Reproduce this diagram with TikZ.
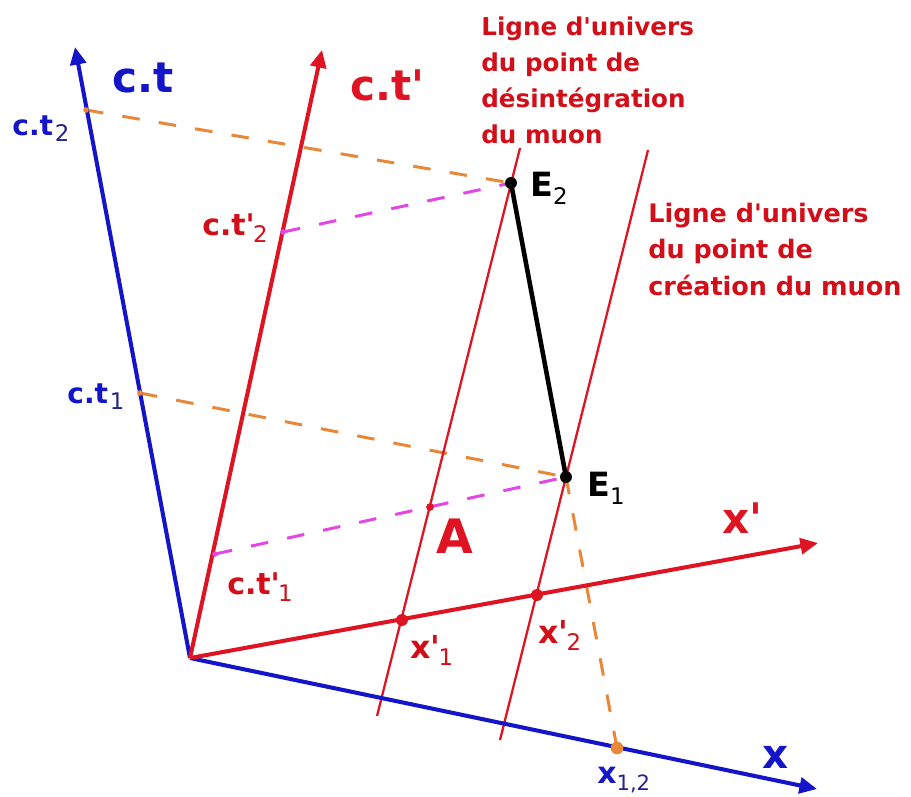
\documentclass[tikz,border=0pt]{standalone}
\usepackage{fontspec}
\setmainfont{DejaVu Sans}[Ligatures=TeXOff]
\usepackage{tikz}
\usetikzlibrary{arrows.meta}

\definecolor{axblue}{RGB}{20,20,200}
\definecolor{subblue}{RGB}{35,35,140}
\definecolor{axred}{RGB}{222,20,35}
\definecolor{txtred}{RGB}{210,15,25}
\definecolor{dashorange}{RGB}{232,135,55}
\definecolor{dashmag}{RGB}{228,70,228}

% subscript in normal weight, size given
\newcommand{\sub}[2]{\raisebox{-0.45ex}{\mdseries\fontsize{#1}{#1}\selectfont #2}}

\begin{document}
\begin{tikzpicture}[x=0.02cm,y=-0.02cm,>={Triangle[length=10pt,width=9pt]},
  bluax/.style={axblue,line width=2.3pt,->},
  redax/.style={axred,line width=2.3pt,->},
  wline/.style={axred,line width=1.3pt},
  orgdash/.style={dashorange,line width=1.7pt,dash pattern=on 10pt off 11pt},
  magdash/.style={dashmag,line width=1.7pt,dash pattern=on 10pt off 11pt},
  lab/.style={anchor=base west,inner sep=0pt,font=\bfseries\fontsize{#1}{#1}\selectfont},
  note/.style={anchor=north west,inner sep=0pt,align=left,txtred,
    font=\bfseries\fontsize{#1}{20.6}\selectfont}]
  \useasboundingbox (0,0) rectangle (911,796);

  % axes and events
  \coordinate (O) at (190,658);
  \coordinate (ctEnd) at (75,47);
  \coordinate (xEnd) at (817,789);
  \coordinate (ctpEnd) at (322,50);
  \coordinate (xpEnd) at (818,543);
  \coordinate (ct2) at (86,110);
  \coordinate (ct1) at (140,393);
  \coordinate (ctp2) at (283,232);
  \coordinate (ctp1) at (215,554);
  \coordinate (E2) at (511,183);
  \coordinate (E1) at (566,477);
  \coordinate (A) at (430,507);
  \coordinate (xp1) at (402,620);
  \coordinate (xp2) at (537,595);
  \coordinate (x12) at (617,748);
  \coordinate (wlOneTop) at (520,148);
  \coordinate (wlOneBot) at (377,716);
  \coordinate (wlTwoTop) at (648,150);
  \coordinate (wlTwoBot) at (500,740);

  % projections
  \draw[orgdash] (ct2) -- (E2);
  \draw[orgdash] (ct1) -- (E1);
  \draw[orgdash] (E1) -- (x12);
  \draw[magdash] (ctp2) -- (E2);
  \draw[magdash] (ctp1) -- (E1);

  % world lines
  \draw[wline] (wlOneBot) -- (wlOneTop);
  \draw[wline] (wlTwoBot) -- (wlTwoTop);

  \draw[bluax] (O) -- (ctEnd);
  \draw[bluax] (O) -- (xEnd);
  \draw[redax] (O) -- (ctpEnd);
  \draw[redax] (O) -- (xpEnd);

  \draw[line width=2.6pt] (E2) -- (E1);
  \fill (E2) circle[radius=3.4pt];
  \fill (E1) circle[radius=3.4pt];
  \fill[axred] (xp1) circle[radius=3.4pt];
  \fill[axred] (xp2) circle[radius=3.4pt];
  \fill[axred] (A) circle[radius=2.2pt];
  \fill[dashorange] (x12) circle[radius=3.6pt];
  \fill[dashorange] (ct2) circle[radius=1.6pt];
  \fill[dashorange] (ct1) circle[radius=1.6pt];
  \fill[dashmag] (ctp2) circle[radius=1.6pt];
  \fill[dashmag] (ctp1) circle[radius=1.6pt];

  % labels
  \node[lab=24,axblue] (lct) at (112,92) {c.t};
  \node[lab=24,axred] (lctp) at (350,100) {c.t'};
  \node[lab=24,axred] (lxp) at (722,533) {x'};
  \node[lab=23,axblue] (lx) at (762,768) {x};
  \node[lab=27,axred] (lA) at (436,553) {A};
  \node[lab=16,axblue] (lct2) at (12,135) {c.t\kern1pt\textcolor{subblue}{\sub{13}{2}}};
  \node[lab=16,axblue] (lct1) at (67,403) {c.t\kern1pt\textcolor{subblue}{\sub{13}{1}}};
  \node[lab=17,txtred] (lctp2) at (202,235) {c.t'\kern-1pt\sub{13}{2}};
  \node[lab=17,txtred] (lctp1) at (227,594) {c.t'\kern-1pt\sub{13}{1}};
  \node[lab=18,txtred] (lxp1) at (410,658) {x'\kern-1pt\sub{13}{1}};
  \node[lab=18,txtred] (lxp2) at (538,643) {x'\kern-1pt\sub{13}{2}};
  \node[lab=17,axblue] (lx12) at (597,783) {x\textcolor{subblue}{\sub{12}{1,2}}};
  \node[lab=19] (lE2) at (530,196) {E\sub{13}{2}};
  \node[lab=19] (lE1) at (587,496) {E\sub{13}{1}};

  \node[note=14] (decay) at (481,16) {Ligne d'univers\\du point de\\désintégration\\du muon};
  \node[note=14.5] (birth) at (648,203) {Ligne d'univers\\du point de\\création du muon};
\end{tikzpicture}
\end{document}
